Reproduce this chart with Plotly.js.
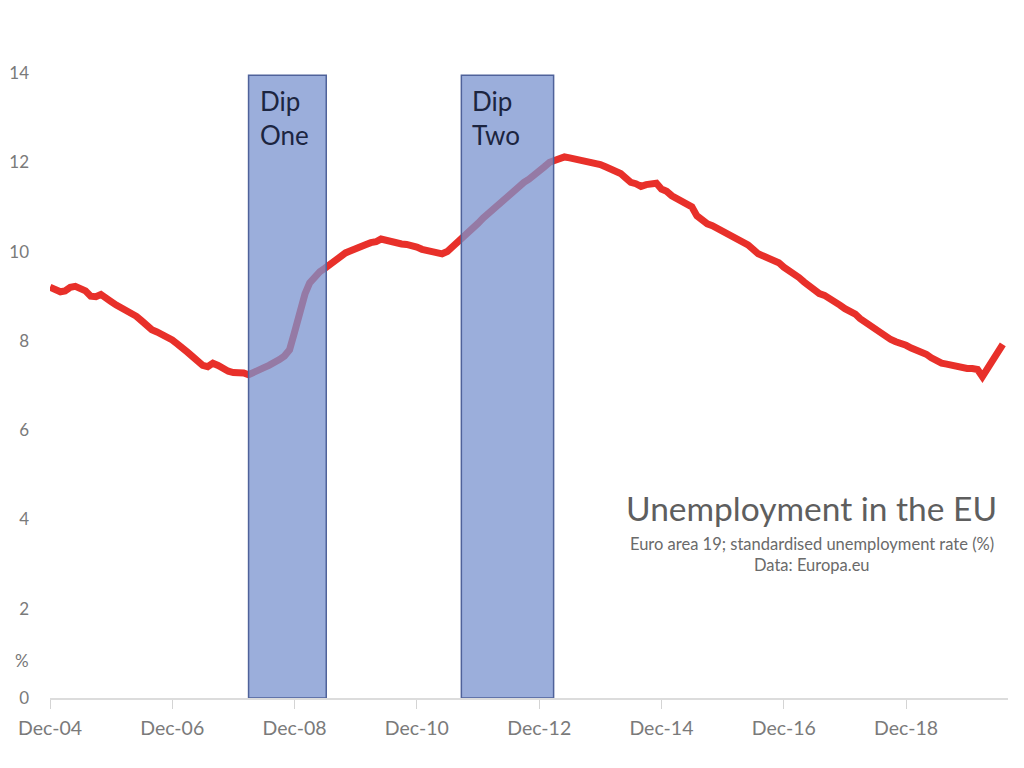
<!DOCTYPE html>
<html>
<head>
<meta charset="utf-8">
<script src="https://cdn.plot.ly/plotly-3.0.1.min.js"></script>
<style>html,body{margin:0;padding:0;background:#fff;}#chart{width:1024px;height:768px;}</style>
</head>
<body>
<div id="chart"></div>
<script>
// Monthly euro-area (EA19) unemployment rate, Dec 2004 .. Jul 2020
const firstMonth = [2004, 12];
const rate = [
  9.2,
  9.15, 9.1, 9.12, 9.2, 9.22, 9.15, 9.12, 9.0, 8.99, 9.04, 8.98, 8.88,
  8.8, 8.74, 8.7, 8.65, 8.55, 8.45, 8.35, 8.25, 8.2, 8.15, 8.1, 8.02,
  7.93, 7.85, 7.75, 7.65, 7.55, 7.45, 7.42, 7.5, 7.45, 7.38, 7.32, 7.29,
  7.29, 7.28, 7.24, 7.28, 7.33, 7.4, 7.45, 7.5, 7.58, 7.66, 7.8, 8.2,
  8.68, 9.05, 9.3, 9.45, 9.55, 9.63, 9.72, 9.8, 9.9, 9.97, 10.02, 10.08,
  10.12, 10.16, 10.2, 10.22, 10.28, 10.25, 10.2, 10.18, 10.17, 10.16, 10.14, 10.1,
  10.05, 10.02, 9.99, 9.96, 9.95, 10.0, 10.1, 10.2, 10.28, 10.4, 10.52, 10.63,
  10.75, 10.85, 10.95, 11.08, 11.18, 11.28, 11.35, 11.45, 11.55, 11.62, 11.7, 11.8,
  11.9, 12.0, 12.05, 12.1, 12.12, 12.1, 12.08, 12.05, 12.03, 12.02, 12.0, 11.95,
  11.9, 11.85, 11.8, 11.75, 11.65, 11.55, 11.52, 11.46, 11.5, 11.53, 11.53, 11.4,
  11.35, 11.25, 11.2, 11.12, 11.05, 11.0, 10.8, 10.7, 10.62, 10.58, 10.52, 10.48,
  10.42, 10.35, 10.3, 10.22, 10.15, 10.05, 9.95, 9.9, 9.85, 9.8, 9.75, 9.65,
  9.58, 9.5, 9.42, 9.32, 9.22, 9.12, 9.06, 9.02, 8.96, 8.88, 8.8, 8.72,
  8.68, 8.6, 8.5, 8.42, 8.32, 8.22, 8.15, 8.08, 8.03, 7.98, 7.95, 7.9,
  7.84, 7.8, 7.75, 7.7, 7.62, 7.55, 7.5, 7.48, 7.45, 7.42, 7.4, 7.38,
  7.38, 7.36, 7.2, 7.38, 7.55, 7.72, 7.92
];

const tickDates = ['2004-12-01','2006-12-01','2008-12-01','2010-12-01','2012-12-01','2014-12-01','2016-12-01','2018-12-01'];
const tickLabels = ['Dec-04','Dec-06','Dec-08','Dec-10','Dec-12','Dec-14','Dec-16','Dec-18'];
const yTicks = [0, 2, 4, 6, 8, 10, 12, 14];

const dipStarts = ['2008-03-01', '2011-08-24'];
const dipEnds = ['2009-06-08', '2013-02-25'];
const dipLabels = ['Dip<br>One', 'Dip<br>Two'];

const titleText = 'Unemployment in the EU';
const subtitleText = 'Euro area 19; standardised unemployment rate (%)';
const sourceText = 'Data: Europa.eu';

function monthStr(i) {
  const total = firstMonth[0] * 12 + (firstMonth[1] - 1) + i;
  const y = Math.floor(total / 12), m = total % 12 + 1;
  return y + '-' + String(m).padStart(2, '0') + '-01';
}
const dates = rate.map((_, i) => monthStr(i));

const FONT = 'Lato, "Open Sans", sans-serif';

const trace = {
  x: dates, y: rate, type: 'scatter', mode: 'lines',
  line: {color: '#e8302a', width: 7},
  hoverinfo: 'skip'
};

const shapes = dipStarts.map((s, i) => ({
  type: 'rect', layer: 'above', xref: 'x', yref: 'y',
  x0: s, x1: dipEnds[i], y0: 0, y1: 13.95,
  fillcolor: 'rgba(122,147,207,0.75)',
  line: {color: '#4f629a', width: 1.5}
}));

const annotations = dipStarts.map((s, i) => ({
  xref: 'x', yref: 'paper', x: s, y: 1, xanchor: 'left', yanchor: 'top',
  xshift: 9, yshift: -10, align: 'left', showarrow: false,
  text: dipLabels[i], font: {family: FONT, size: 26, color: '#1c2540'}
}));
annotations.push(
  {xref: 'paper', yref: 'paper', x: 0.795, y: 0.304, xanchor: 'center', yanchor: 'middle', showarrow: false,
   text: titleText, font: {family: FONT, size: 33.5, color: '#5e5e5e'}},
  {xref: 'paper', yref: 'paper', x: 0.795, y: 0.246, xanchor: 'center', yanchor: 'middle', showarrow: false,
   text: subtitleText, font: {family: FONT, size: 16.5, color: '#6a6a6a'}},
  {xref: 'paper', yref: 'paper', x: 0.795, y: 0.213, xanchor: 'center', yanchor: 'middle', showarrow: false,
   text: sourceText, font: {family: FONT, size: 16.5, color: '#6a6a6a'}},
  {xref: 'paper', yref: 'y', x: 0, y: 0.85, xanchor: 'right', yanchor: 'middle', xshift: -19, showarrow: false,
   text: '%', font: {family: FONT, size: 17, color: '#777'}}
);

const layout = {
  width: 1024, height: 768,
  margin: {l: 50, r: 16, t: 73, b: 70},
  paper_bgcolor: '#fff', plot_bgcolor: '#fff',
  showlegend: false,
  font: {family: FONT, color: '#777'},
  xaxis: {
    type: 'date', range: ['2004-12-01', '2020-08-01'],
    tickvals: tickDates, ticktext: tickLabels,
    showgrid: false, zeroline: false,
    showline: true, linecolor: '#dcdcdc', linewidth: 1.5,
    ticks: 'outside', ticklen: 9, tickcolor: '#d4d4d4', tickwidth: 1,
    ticklabelstandoff: 3,
    tickfont: {family: FONT, size: 19.5, color: '#7a7a7a'},
    fixedrange: true
  },
  yaxis: {
    range: [0, 14], tickvals: yTicks,
    showgrid: false, zeroline: false, showline: false,
    ticks: '', ticklabelstandoff: 20,
    tickfont: {family: FONT, size: 17, color: '#7a7a7a'},
    fixedrange: true
  },
  shapes: shapes,
  annotations: annotations
};

Plotly.newPlot('chart', [trace], layout, {displayModeBar: false, staticPlot: true});
</script>
</body>
</html>
